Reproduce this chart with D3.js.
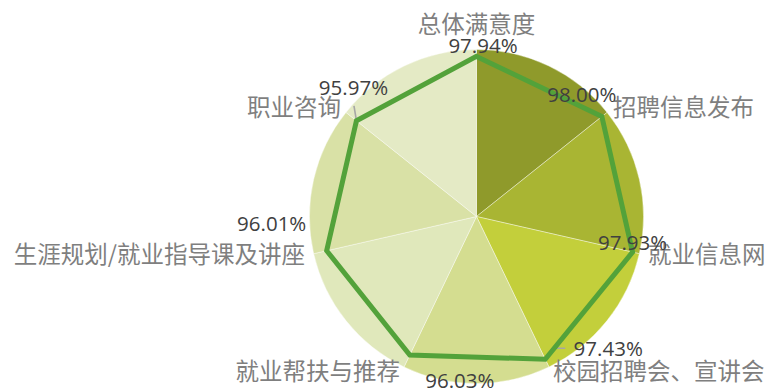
<!DOCTYPE html>
<html>
<head>
<meta charset="utf-8">
<script src="https://cdn.jsdelivr.net/npm/d3@7/dist/d3.min.js"></script>
<style>
  html, body { margin: 0; padding: 0; background: #ffffff; }
  svg { display: block; }
</style>
</head>
<body>
<svg id="chart" width="767" height="389"></svg>
<script>
// Satisfaction by employment-service item (radar over a decorative pie)
const categories = [
  "总体满意度",
  "招聘信息发布",
  "就业信息网",
  "校园招聘会、宣讲会",
  "就业帮扶与推荐",
  "生涯规划/就业指导课及讲座",
  "职业咨询"
];
const satisfaction = [97.94, 98.00, 97.93, 97.43, 96.03, 96.01, 95.97];
const pieShares = [1, 1, 1, 1, 1, 1, 1];
const radialDomain = [50, 100];

// Styling / layout
const sliceColors = ["#8f9a2b", "#a9b533", "#c3cf3b", "#d4dd90", "#e0e8bb", "#d9e1a6", "#e4eac5"];
const width = 767, height = 389;
const cx = 476.5, cy = 216.5, R = 167;

// label placement relative to the axis end (category) and vertex (value)
const catLayout = [
  {dx: 0,    dy: -17,  anchor: "middle"},
  {dx: 6,    dy: 3.6,  anchor: "start"},
  {dx: 8.7,  dy: 9.3,  anchor: "start"},
  {dx: 4,    dy: 13,   anchor: "start"},
  {dx: -4,   dy: 13,   anchor: "end"},
  {dx: -8.7, dy: 9.3,  anchor: "end"},
  {dx: -5,   dy: 3.6,  anchor: "end"}
];
const valLayout = [
  {dx: 6.5, dy: -3.4},
  {dx: -20, dy: -15},
  {dx: 0,   dy: -2},
  {dx: 63,  dy: -3},
  {dx: 50,  dy: 33},
  {dx: -55, dy: -20},
  {dx: -3,  dy: -26}
];
const leaders = {
  3: [[20, -11], [8, -11], [0, 0]],
  6: [[-2.5, -15], [0, 0]]
};

const svg = d3.select("#chart");
const g = svg.append("g").attr("transform", `translate(${cx},${cy})`);

const n = categories.length;
const angle = d3.scaleLinear().domain([0, n]).range([0, 2 * Math.PI]);
const radius = d3.scaleLinear().domain(radialDomain).range([0, R]);

function point(i, r) {
  const a = angle(i);
  return [r * Math.sin(a), -r * Math.cos(a)];
}

// decorative pie, equal slices aligned with the radar axes
const pie = d3.pie().sort(null).value(d => d)(pieShares);
const arc = d3.arc().innerRadius(0).outerRadius(R);
g.selectAll("path.slice")
  .data(pie)
  .join("path")
  .attr("class", "slice")
  .attr("d", arc)
  .attr("fill", (d, i) => sliceColors[i])
  .attr("stroke", "rgba(255,255,255,0.55)")
  .attr("stroke-width", 0.7);

// leader lines
Object.entries(leaders).forEach(([k, pts]) => {
  const i = +k;
  const [vx, vy] = point(i, radius(satisfaction[i]));
  g.append("path")
    .attr("d", d3.line()(pts.map(p => [vx + p[0], vy + p[1]])))
    .attr("fill", "none")
    .attr("stroke", "#a6a6a6")
    .attr("stroke-width", 1.6);
});

// radar outline
const radarLine = d3.lineRadial()
  .angle((d, i) => angle(i))
  .radius(d => radius(d))
  .curve(d3.curveLinearClosed);
g.append("path")
  .attr("d", radarLine(satisfaction))
  .attr("fill", "none")
  .attr("stroke", "#53a23a")
  .attr("stroke-width", 5)
  .attr("stroke-linejoin", "miter");

// category labels
g.selectAll("text.cat")
  .data(categories)
  .join("text")
  .attr("class", "cat")
  .attr("x", (d, i) => point(i, R)[0] + catLayout[i].dx)
  .attr("y", (d, i) => point(i, R)[1] + catLayout[i].dy)
  .attr("text-anchor", (d, i) => catLayout[i].anchor)
  .attr("font-family", "'Noto Sans CJK SC', sans-serif")
  .attr("font-size", 23.5)
  .attr("fill", "#7f7f7f")
  .text(d => d);

// value labels
g.selectAll("text.val")
  .data(satisfaction)
  .join("text")
  .attr("class", "val")
  .attr("x", (d, i) => point(i, radius(d))[0] + valLayout[i].dx)
  .attr("y", (d, i) => point(i, radius(d))[1] + valLayout[i].dy)
  .attr("text-anchor", "middle")
  .attr("font-family", "'Open Sans', sans-serif")
  .attr("font-size", 20.5)
  .attr("fill", "#404040")
  .text(d => d.toFixed(2) + "%");
</script>
</body>
</html>
